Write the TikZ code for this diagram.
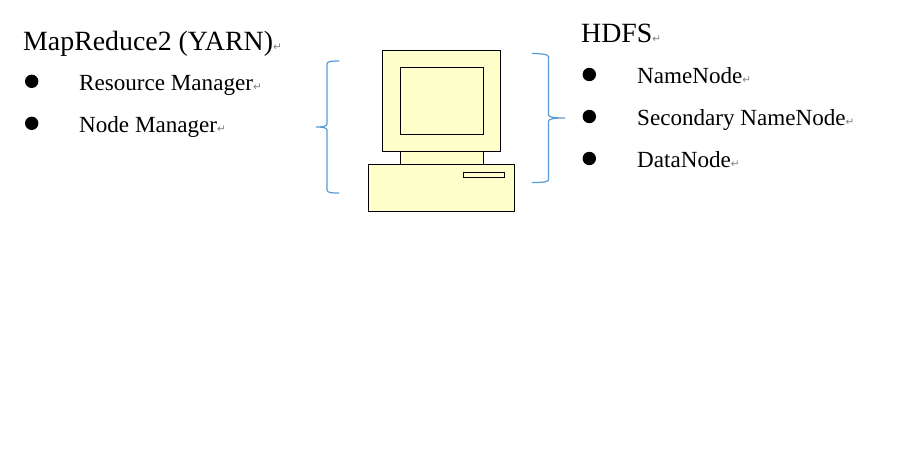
\documentclass[tikz,border=0pt]{standalone}
\usepackage{fontspec}
\setmainfont{Liberation Serif}
\newfontfamily\markfont{DejaVu Sans}
\definecolor{pcfill}{HTML}{FFFFCC}
\definecolor{bracecol}{HTML}{5B9BD5}
\newcommand{\retmark}{{\markfont\fontsize{10.5pt}{10.5pt}\selectfont\textcolor{black!50}{↵}}}
\tikzset{
  headtext/.style={anchor=base west,inner sep=0pt,font=\fontsize{27.85pt}{30pt}\selectfont},
  itemtext/.style={anchor=base west,inner sep=0pt,font=\fontsize{23.1pt}{26pt}\selectfont},
  dot/.style={circle,fill=black,draw=none,minimum size=13.4pt,inner sep=0pt},
  pcpart/.style={draw=black,line width=1.25pt,fill=pcfill},
  bracket/.style={draw=bracecol,line width=1.2pt}
}
\begin{document}
\begin{tikzpicture}[x=1pt,y=-1pt]
\useasboundingbox (0,0) rectangle (904,469);
\fill[white] (0,0) rectangle (904,469);
% left list
\node[headtext] (mr) at (23,50.7) {MapReduce2 (YARN)\retmark};
\node[dot] (d1) at (31.7,81.3) {};
\node[itemtext] (rm) at (79,90) {Resource Manager\retmark};
\node[dot] (d2) at (31.7,123.3) {};
\node[itemtext] (nm) at (79,132) {Node Manager\retmark};
% right list
\node[headtext] (hdfs) at (581,42.7) {HDFS\retmark};
\node[dot] (d3) at (589.3,74.5) {};
\node[itemtext] (nn) at (637,83.4) {NameNode\retmark};
\node[dot] (d4) at (589.3,116.5) {};
\node[itemtext] (snn) at (637,125.4) {Secondary NameNode\retmark};
\node[dot] (d5) at (589.3,158.5) {};
\node[itemtext] (dn) at (637,167.2) {DataNode\retmark};
% computer
\draw[pcpart] (400.5,151.5) rectangle (483.5,164.5);
\draw[pcpart] (382.5,50.5) rectangle (500.5,151.5);
\draw[pcpart] (400.5,67.5) rectangle (483.5,134.5);
\draw[pcpart] (368.5,164.5) rectangle (514.5,211.5);
\draw[pcpart] (463.5,172.5) rectangle (504.5,177.5);
% braces
\draw[bracket] (339,61) .. controls (333,61) and (327,61) .. (327,64)
  -- (327,124) .. controls (327,126.5) and (322,127) .. (316,127)
  .. controls (322,127) and (327,127.5) .. (327,130)
  -- (327,190) .. controls (327,193) and (333,193) .. (339,193);
\draw[bracket] (532,53.5) .. controls (538,53.5) and (548.5,54) .. (548.5,56.5)
  -- (548.5,115) .. controls (548.5,117.5) and (556,118) .. (565,118)
  .. controls (556,118) and (548.5,118.5) .. (548.5,121)
  -- (548.5,180) .. controls (548.5,182.5) and (538,182.5) .. (532,182.5);
\end{tikzpicture}
\end{document}
